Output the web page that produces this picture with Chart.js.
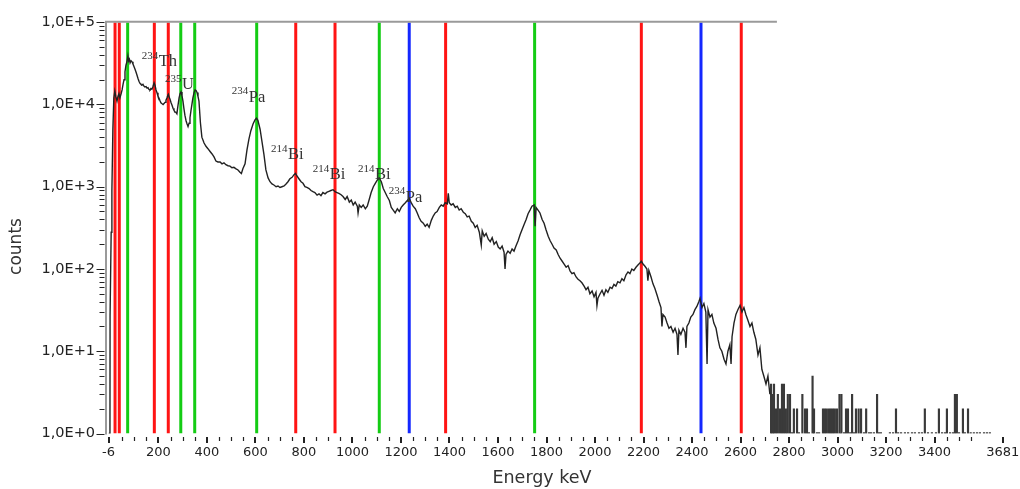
<!DOCTYPE html>
<html>
<head>
<meta charset="utf-8">
<title>Gamma spectrum</title>
<script src="https://cdn.jsdelivr.net/npm/chart.js@4.4.1/dist/chart.umd.min.js"></script>
<style>
  html, body { margin: 0; padding: 0; background: #fff; }
  canvas { display: block; }
</style>
</head>
<body>
<canvas id="spectrum" width="1020" height="489"></canvas>
<script>
// measured spectrum: energy (keV) and counts per channel
const specEnergy = [
  -6, 0, 0.5, 4, 5, 8, 12, 16, 20, 24,
  29, 33, 37, 41, 46, 50, 54, 58, 62, 66,
  70, 74, 77, 80, 83, 87, 91, 95, 99, 103,
  107, 111, 116, 120, 124, 128, 132, 136, 140, 144,
  149, 153, 157, 161, 165, 169, 173, 177, 182, 186,
  190, 194, 198, 202, 206, 210, 215, 219, 223, 227,
  231, 235, 239, 241, 244, 248, 252, 256, 260, 264,
  268, 272, 276, 280, 285, 289, 293, 297, 301, 305,
  309, 314, 318, 322, 326, 330, 334, 338, 342, 347,
  351, 355, 359, 363, 367, 373, 379, 388, 396, 404,
  412, 421, 429, 437, 445, 454, 462, 470, 478, 487,
  495, 503, 511, 520, 528, 536, 542, 548, 557, 565,
  573, 581, 590, 598, 604, 610, 619, 627, 635, 643,
  652, 660, 668, 676, 685, 693, 701, 709, 718, 726,
  734, 742, 751, 759, 765, 771, 779, 788, 796, 804,
  812, 821, 829, 837, 845, 854, 862, 870, 878, 887,
  895, 903, 911, 920, 928, 936, 944, 953, 961, 970,
  978, 987, 995, 1003, 1011, 1020, 1023, 1028, 1036, 1044,
  1053, 1061, 1069, 1077, 1086, 1094, 1102, 1110, 1119, 1127,
  1135, 1143, 1152, 1160, 1168, 1176, 1185, 1193, 1201, 1209,
  1218, 1226, 1234, 1242, 1250, 1259, 1267, 1275, 1283, 1292,
  1300, 1308, 1316, 1325, 1333, 1341, 1349, 1358, 1366, 1374,
  1382, 1391, 1395, 1399, 1407, 1415, 1424, 1432, 1440, 1448,
  1457, 1465, 1473, 1481, 1490, 1498, 1506, 1514, 1523, 1531,
  1535, 1543, 1551, 1560, 1568, 1576, 1584, 1593, 1601, 1609,
  1617, 1625, 1629, 1633, 1641, 1650, 1658, 1666, 1674, 1683,
  1691, 1699, 1708, 1716, 1724, 1732, 1740, 1749, 1753, 1757,
  1765, 1773, 1782, 1790, 1798, 1807, 1815, 1823, 1831, 1840,
  1848, 1856, 1864, 1872, 1881, 1889, 1897, 1905, 1913, 1922,
  1930, 1938, 1946, 1955, 1963, 1971, 1979, 1988, 1996, 2004,
  2008, 2012, 2021, 2029, 2037, 2045, 2053, 2062, 2070, 2078,
  2086, 2094, 2103, 2111, 2119, 2128, 2136, 2144, 2152, 2160,
  2169, 2177, 2185, 2191, 2198, 2206, 2214, 2218, 2222, 2231,
  2239, 2247, 2256, 2264, 2272, 2276, 2280, 2289, 2297, 2305,
  2313, 2322, 2330, 2338, 2342, 2346, 2354, 2363, 2371, 2375,
  2379, 2387, 2395, 2404, 2412, 2420, 2428, 2433, 2441, 2449,
  2457, 2462, 2466, 2474, 2482, 2490, 2499, 2507, 2515, 2523,
  2532, 2540, 2548, 2556, 2561, 2565, 2573, 2581, 2589, 2598,
  2606, 2614, 2622, 2630, 2639, 2647, 2655, 2663, 2672, 2680,
  2688, 2696, 2705, 2713, 2721
];
const specCounts = [
  1, 1, 27, 27, 280, 900, 5000, 12000, 14500, 12500,
  11000, 12500, 13500, 12000, 13500, 15000, 17500, 20000, 25000, 30000,
  33000, 39000, 34000, 35500, 32000, 34000, 33000, 31000, 29000, 27000,
  25000, 23000, 20500, 19000, 18000, 17500, 17200, 17600, 16700, 16300,
  16500, 15800, 16000, 15200, 15000, 15600, 15300, 16400, 18300, 17000,
  15000, 13900, 12600, 12000, 11200, 10500, 10200, 10000, 10300, 10600,
  11300, 12000, 13000, 13300, 12300, 11500, 10500, 9800, 9000, 8500,
  8100, 8000, 7700, 9500, 12000, 13500, 14200, 12800, 11000, 8900,
  7400, 6300, 5800, 5400, 5900, 6900, 8400, 10000, 12000, 14000,
  15000, 14800, 14000, 12500, 11000, 6000, 4000, 3400, 3100, 2900,
  2700, 2500, 2300, 2050, 2000, 2000, 1900, 1950, 1850, 1800,
  1780, 1700, 1720, 1650, 1600, 1500, 1450, 1650, 1900, 2800,
  3800, 4800, 5800, 6500, 6800, 6400, 5000, 3500, 2450, 1600,
  1280, 1150, 1080, 1050, 1000, 1020, 980, 1000, 1020, 1080,
  1150, 1250, 1300, 1400, 1450, 1350, 1250, 1150, 1100, 1000,
  980, 950, 900, 870, 850, 790, 820, 780, 850, 820,
  860, 880, 900, 920, 870, 850, 830, 800, 760, 700,
  760, 650, 690, 600, 650, 580, 480, 600, 560, 600,
  540, 580, 700, 850, 1000, 1100, 1200, 1280, 1150, 950,
  850, 760, 680, 560, 520, 480, 540, 500, 560, 600,
  640, 680, 720, 640, 580, 540, 480, 420, 380, 360,
  330, 350, 320, 390, 440, 480, 500, 560, 600, 580,
  640, 620, 830, 640, 600, 620, 560, 580, 520, 540,
  490, 470, 430, 440, 380, 360, 320, 340, 280, 195,
  290, 250, 270, 230, 215, 240, 200, 215, 185, 175,
  190, 160, 100, 150, 165, 155, 175, 165, 190, 220,
  260, 300, 350, 400, 470, 520, 580, 600, 330, 560,
  520, 480, 400, 360, 300, 250, 220, 200, 180, 170,
  150, 135, 125, 115, 105, 110, 95, 88, 90, 80,
  75, 72, 68, 62, 56, 60, 50, 54, 46, 52,
  36, 44, 50, 55, 48, 56, 52, 60, 58, 65,
  62, 70, 68, 76, 72, 85, 92, 88, 100, 96,
  105, 112, 118, 124, 115, 108, 100, 72, 96, 80,
  66, 58, 48, 40, 34, 20, 28, 26, 22, 19,
  20, 17, 19, 16, 9, 18, 16, 19, 17, 11,
  20, 22, 26, 28, 32, 35, 40, 44, 34, 38,
  30, 7, 32, 26, 28, 22, 19, 14, 11, 10,
  8, 7, 10, 12, 7, 15, 22, 28, 32, 36,
  30, 34, 28, 24, 20, 22, 17, 14, 9, 11,
  6, 5, 4, 5, 3
];

// sparse channels above ~2.7 MeV
const tailEnergy = [
  2726, 2732, 2738, 2746, 2754, 2763, 2771, 2779, 2787, 2795,
  2804, 2812, 2820, 2833, 2841, 2855, 2866, 2874, 2882, 2897,
  2903, 2915, 2924, 2940, 2948, 2956, 2965, 2973, 2981, 2989,
  2998, 3008, 3016, 3027, 3035, 3043, 3052, 3060, 3068, 3076,
  3087, 3097, 3109, 3118, 3130, 3138, 3150, 3163, 3171, 3179,
  3216, 3229, 3241, 3250, 3262, 3278, 3291, 3307, 3319, 3336,
  3348, 3360, 3373, 3389, 3406, 3418, 3431, 3443, 3451, 3464,
  3476, 3484, 3492, 3501, 3517, 3525, 3538, 3549, 3562, 3575,
  3587, 3604, 3616, 3628
];
const tailCounts = [
  4, 3, 4, 2, 3, 2, 4, 4, 2, 3,
  3, 1, 2, 2, 1, 3, 2, 2, 1, 5,
  2, 1, 1, 2, 2, 2, 2, 2, 2, 2,
  2, 3, 3, 1, 2, 2, 1, 3, 1, 2,
  2, 2, 1, 2, 1, 1, 1, 3, 1, 1,
  1, 1, 2, 1, 1, 1, 1, 1, 1, 1,
  1, 2, 1, 1, 1, 2, 1, 1, 2, 1,
  1, 3, 3, 1, 2, 1, 2, 1, 1, 1,
  1, 1, 1, 1
];

// nuclide reference lines (keV)
const lineEnergy = [21, 38.5, 73, 183, 240.5, 292, 349.5, 605, 766, 928, 1110.5, 1234, 1384, 1751, 2191, 2437, 2603];
const lineColor  = ['red', 'red', 'green', 'red', 'red', 'green', 'green', 'green', 'red', 'red', 'green', 'blue', 'red', 'green', 'red', 'blue', 'red'];

// peak labels: mass number, element, anchor (keV, counts)
const labelMass   = ['234', '235', '234', '214', '214', '214', '234'];
const labelName   = ['Th', 'U', 'Pa', 'Bi', 'Bi', 'Bi', 'Pa'];
const labelEnergy = [131, 227, 502, 664, 836, 1023, 1150];
const labelCounts = [29200, 15250, 10750, 2160, 1240, 1240, 656];

// axes
const xTicks = [-6, 200, 400, 600, 800, 1000, 1200, 1400, 1600, 1800, 2000, 2200, 2400, 2600, 2800, 3000, 3200, 3400, 3681];
const yTicks = [1, 10, 100, 1000, 10000, 100000];
const xTitle = 'Energy keV';
const yTitle = 'counts';
const frameEnd = 2750;   // top frame stops here

const COLORS = { red: '#ff1414', green: '#14cc14', blue: '#1428ff' };

Chart.defaults.font.family = '"DejaVu Sans", Verdana, sans-serif';

// axis line, partial frame, tick marks and axis titles
const axisDecor = {
  id: 'axisDecor',
  afterDraw(chart) {
    const { ctx, chartArea: a, scales: { x, y } } = chart;
    ctx.save();

    ctx.strokeStyle = '#9a9a9a';
    ctx.lineWidth = 2;
    ctx.beginPath();
    ctx.moveTo(a.left - 2.5, a.bottom + 1);
    ctx.lineTo(a.left - 2.5, a.top - 0.5);
    ctx.lineTo(x.getPixelForValue(frameEnd), a.top - 0.5);
    ctx.stroke();

    ctx.strokeStyle = '#222';
    // x minor ticks every 50 keV
    ctx.lineWidth = 1.2;
    ctx.beginPath();
    for (let e = 50; e < 3650; e += 50) {
      if (e % 200 === 0) continue;
      const px = Math.round(x.getPixelForValue(e)) + 0.5;
      ctx.moveTo(px, a.bottom + 3.5);
      ctx.lineTo(px, a.bottom + 7.5);
    }
    ctx.stroke();
    ctx.lineWidth = 2;
    ctx.beginPath();
    xTicks.forEach(v => {
      const px = Math.round(x.getPixelForValue(v));
      ctx.moveTo(px, a.bottom + 3.5);
      ctx.lineTo(px, a.bottom + 9.5);
    });
    ctx.stroke();

    // y ticks: decades and their 2..9 subdivisions
    ctx.lineWidth = 1;
    ctx.beginPath();
    yTicks.forEach((d, i) => {
      const py = Math.round(y.getPixelForValue(d)) + 0.5;
      ctx.moveTo(a.left - 12, py);
      ctx.lineTo(a.left - 4, py);
      if (i === yTicks.length - 1) return;
      for (let k = 2; k <= 9; k++) {
        const pm = Math.round(y.getPixelForValue(d * k)) + 0.5;
        ctx.moveTo(a.left - 9, pm);
        ctx.lineTo(a.left - 4, pm);
      }
    });
    ctx.stroke();

    ctx.fillStyle = '#333';
    ctx.font = '17.5px "DejaVu Sans"';
    ctx.textAlign = 'center';
    ctx.textBaseline = 'alphabetic';
    ctx.fillText(xTitle, 542, 483);

    ctx.font = '17px "DejaVu Sans"';
    ctx.translate(17, 246.5);
    ctx.rotate(-Math.PI / 2);
    ctx.textBaseline = 'middle';
    ctx.fillText(yTitle, 0, 0);
    ctx.restore();
  }
};

// nuclide names with raised mass numbers
const isotopeLabels = {
  id: 'isotopeLabels',
  afterDatasetsDraw(chart) {
    const { ctx, scales: { x, y } } = chart;
    ctx.save();
    ctx.fillStyle = '#333';
    ctx.textBaseline = 'alphabetic';
    ctx.textAlign = 'left';
    labelName.forEach((name, i) => {
      const px = x.getPixelForValue(labelEnergy[i]);
      const py = y.getPixelForValue(labelCounts[i]);
      ctx.font = '11px "Liberation Serif"';
      ctx.fillText(labelMass[i], px, py - 7.5);
      const w = ctx.measureText(labelMass[i]).width;
      ctx.font = '16.5px "Liberation Serif"';
      ctx.fillText(name, px + w + 0.5, py);
    });
    ctx.restore();
  }
};

const lineSets = lineEnergy.map((e, i) => ({
  type: 'line',
  data: [{ x: e, y: 1 }, { x: e, y: 100000 }],
  borderColor: COLORS[lineColor[i]],
  borderWidth: 3,
  pointRadius: 0,
  order: 2
}));

const spectrumSet = {
  type: 'line',
  data: specEnergy.map((e, i) => ({ x: e, y: specCounts[i] })),
  borderColor: '#222',
  borderWidth: 1.4,
  pointRadius: 0,
  tension: 0,
  order: 0
};

const tailSet = {
  type: 'bar',
  data: tailEnergy.map((e, i) => ({ x: e, y: tailCounts[i] })),
  backgroundColor: '#3a3a3a',
  barThickness: 1.5,
  minBarLength: 1,
  order: 1
};

new Chart(document.getElementById('spectrum'), {
  type: 'line',
  data: { datasets: [...lineSets, tailSet, spectrumSet] },
  options: {
    responsive: false,
    animation: false,
    devicePixelRatio: 1,
    layout: { padding: { top: 21.5, right: 17.3, bottom: 0, left: 0 } },
    plugins: { legend: { display: false }, tooltip: { enabled: false } },
    scales: {
      x: {
        type: 'linear',
        min: -6,
        max: 3681,
        offset: false,
        afterBuildTicks: s => { s.ticks = xTicks.map(v => ({ value: v })); },
        afterFit: s => {
          s.height = 55.5;
          s.paddingLeft = 0;
          s.paddingRight = 0;
        },
        ticks: {
          autoSkip: false,
          maxRotation: 0,
          padding: 11,
          color: '#222',
          font: { size: 13 },
          callback: v => String(v)
        },
        grid: { display: false, drawTicks: false },
        border: { display: false }
      },
      y: {
        type: 'logarithmic',
        min: 1,
        max: 100000,
        afterBuildTicks: s => { s.ticks = yTicks.map(v => ({ value: v, major: true })); },
        afterFit: s => { s.width = 108.5; },
        ticks: {
          padding: 13.5,
          color: '#222',
          font: { size: 14.5 },
          callback: v => '1,0E+' + Math.round(Math.log10(v))
        },
        grid: { display: false, drawTicks: false },
        border: { display: false }
      }
    }
  },
  plugins: [isotopeLabels, axisDecor]
});
</script>
</body>
</html>
